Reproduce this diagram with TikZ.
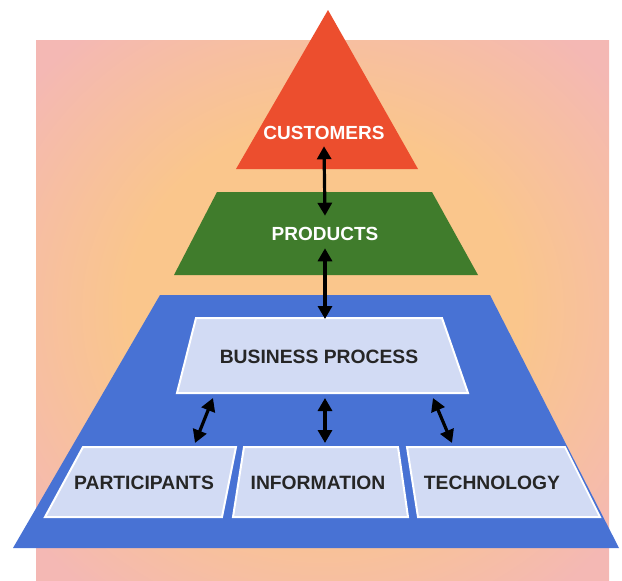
\documentclass[tikz,border=0pt]{standalone}
\usepackage{fontspec}
\setmainfont{Liberation Sans}
\usetikzlibrary{arrows.meta,calc}
\definecolor{bgpink}{RGB}{244,184,180}
\definecolor{bgorange}{RGB}{250,198,140}
\definecolor{custred}{RGB}{236,78,46}
\definecolor{prodgreen}{RGB}{64,124,44}
\definecolor{baseblue}{RGB}{72,114,212}
\definecolor{boxblue}{RGB}{210,219,244}
\pgfdeclareradialshading{bgglow}{\pgfpoint{0bp}{0bp}}{color(0bp)=(bgorange); color(17bp)=(bgorange); color(33bp)=(bgpink); color(50bp)=(bgpink)}
\tikzset{
  link/.style={line width=3.2pt,{Triangle[length=13pt,width=14pt]}-{Triangle[length=13pt,width=14pt]}},
  lightbox/.style={fill=boxblue,draw=white,line width=2pt},
  darklabel/.style={font=\bfseries\fontsize{19.3}{19.3}\selectfont,text=black!85},
  whitelabel/.style={font=\bfseries\fontsize{19}{19}\selectfont,text=white},
}

\begin{document}
\begin{tikzpicture}[x=1pt,y=-1pt]
    \useasboundingbox (0,0) rectangle (622,581);
    \shade[shading=bgglow] (36,40) rectangle (609,581);

    \fill[custred] (328,10) -- (418,169) -- (236,169) -- cycle;
    \fill[prodgreen] (217,192) -- (432,192) -- (478,275) -- (174,275) -- cycle;
    \fill[baseblue] (160,295) -- (490,295) -- (619,548) -- (13,548) -- cycle;
    \filldraw[lightbox] (196,318) -- (442,318) -- (468,393) -- (177,393) -- cycle;
    \filldraw[lightbox] (83,447) -- (236,447) -- (222,517) -- (45,517) -- cycle;
    \filldraw[lightbox] (244,447) -- (398,447) -- (408,517) -- (233,517) -- cycle;
    \filldraw[lightbox] (407,447) -- (565,447) -- (600,517) -- (418,517) -- cycle;

    \node[whitelabel] (cust) at (324,133) {CUSTOMERS};
    \node[whitelabel] (prod) at (325,234) {PRODUCTS};
    \node[darklabel] (bp) at (319,357) {BUSINESS PROCESS};
    \node[darklabel] (part) at (144,483) {PARTICIPANTS};
    \node[darklabel] (info) at (318,483) {INFORMATION};
    \node[darklabel] (tech) at (492,483) {TECHNOLOGY};

    \coordinate (bpL) at (213,398);
    \coordinate (bpM) at (325,398);
    \coordinate (bpR) at (433,398);
    \coordinate (partT) at (195,443);
    \coordinate (infoT) at (325,443);
    \coordinate (techT) at (452,443);

    \draw[link] ($(cust.south)+(0,3)$) -- ($(prod.north)+(0,-8)$);
    \draw[link] ($(prod.south)+(0,4)$) -- (325,319);
    \draw[link] (bpL) -- (partT);
    \draw[link] (bpM) -- (infoT);
    \draw[link] (bpR) -- (techT);
\end{tikzpicture}
\end{document}
